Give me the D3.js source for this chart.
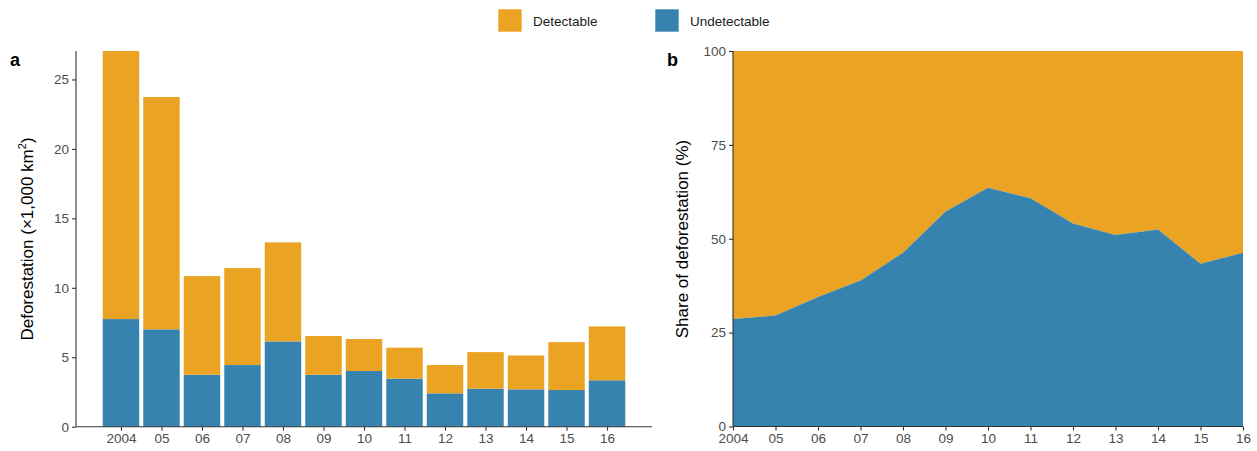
<!DOCTYPE html>
<html>
<head>
<meta charset="utf-8">
<script src="https://cdn.jsdelivr.net/npm/d3@7"></script>
<style>
  body { margin: 0; background: #fff; }
  text { font-family: "Liberation Sans", Arial, sans-serif; }
</style>
</head>
<body>
<svg id="chart" width="1257" height="451"></svg>
<script>
const years = ["2004","05","06","07","08","09","10","11","12","13","14","15","16"];
const undetectable = [7.75, 7.01, 3.74, 4.44, 6.14, 3.74, 4.01, 3.46, 2.40, 2.74, 2.69, 2.64, 3.34];
const detectable   = [19.35, 16.73, 7.10, 6.98, 7.13, 2.79, 2.30, 2.23, 2.04, 2.63, 2.44, 3.45, 3.88];
const leftTicks = [0, 5, 10, 15, 20, 25];
const rightTicks = [0, 25, 50, 75, 100];
const seriesNames = ["Detectable", "Undetectable"];

const colOrange = "#EBA324";
const colBlue = "#3683B0";
const tickCol = "#4D4D4D";
const axisCol = "#333333";

const svg = d3.select("#chart");

// ---------- Legend ----------
const legend = svg.append("g");
const legendItems = [
  {name: seriesNames[0], color: colOrange, x: 498, tx: 533},
  {name: seriesNames[1], color: colBlue, x: 655, tx: 690}
];
legendItems.forEach(d => {
  legend.append("rect").attr("x", d.x).attr("y", 9).attr("width", 24).attr("height", 23)
    .attr("fill", d.color).attr("stroke", "#fff").attr("stroke-width", 0.6);
  legend.append("text").attr("x", d.tx).attr("y", 25.5).attr("font-size", 13.5)
    .attr("fill", "#1a1a1a").text(d.name);
});

// ---------- Panel a ----------
const xA = d3.scalePoint().domain(years).range([76, 652]).padding(1.11);
const bw = xA.step() * 0.9;
const yA = d3.scaleLinear().domain([0, 27.05]).range([426.7, 51]);

svg.append("defs").append("clipPath").attr("id", "clipA")
  .append("rect").attr("x", 76).attr("y", 51).attr("width", 576).attr("height", 376);

const data = years.map((y, i) => ({year: y, Undetectable: undetectable[i], Detectable: detectable[i]}));
const stacked = d3.stack().keys(["Undetectable", "Detectable"])(data);
const colorOf = {Undetectable: colBlue, Detectable: colOrange};

const gA = svg.append("g").attr("clip-path", "url(#clipA)");
stacked.forEach(layer => {
  gA.selectAll(null).data(layer).enter().append("rect")
    .attr("x", d => xA(d.data.year) - bw / 2)
    .attr("width", bw)
    .attr("y", d => yA(d[1]))
    .attr("height", d => yA(d[0]) - yA(d[1]))
    .attr("fill", colorOf[layer.key]);
});

// axes a
const axA_y = svg.append("g").attr("transform", "translate(76,0)")
  .call(d3.axisLeft(yA).tickValues(leftTicks).tickSize(4).tickPadding(3));
const axA_x = svg.append("g").attr("transform", "translate(0,426.7)")
  .call(d3.axisBottom(xA).tickSize(4).tickPadding(3));

// ---------- Panel b ----------
const idx = d3.range(years.length);
const xB = d3.scaleLinear().domain([0, years.length - 1]).range([733, 1243]);
const yB = d3.scaleLinear().domain([0, 100]).range([426.5, 51]);
const share = idx.map(i => 100 * undetectable[i] / (undetectable[i] + detectable[i]));

svg.append("path")
  .datum(idx)
  .attr("d", d3.area().x(i => xB(i)).y0(yB(100)).y1(i => yB(share[i])))
  .attr("fill", colOrange);
svg.append("path")
  .datum(idx)
  .attr("d", d3.area().x(i => xB(i)).y0(yB(0)).y1(i => yB(share[i])))
  .attr("fill", colBlue);

const axB_y = svg.append("g").attr("transform", "translate(733,0)")
  .call(d3.axisLeft(yB).tickValues(rightTicks).tickSize(4).tickPadding(3));
const axB_x = svg.append("g").attr("transform", "translate(0,426.5)")
  .call(d3.axisBottom(xB).tickValues(idx).tickFormat(i => years[i]).tickSize(4).tickPadding(3));

// style axes
[axA_y, axA_x, axB_y, axB_x].forEach(g => {
  g.select(".domain").attr("stroke", axisCol).attr("stroke-width", 1.1);
  g.selectAll(".tick line").attr("stroke", axisCol).attr("stroke-width", 1.1);
  g.selectAll(".tick text").attr("fill", tickCol).attr("font-size", 13.5)
    .attr("font-family", "'Liberation Sans', Arial, sans-serif");
});
// remove outer tick extension on domains
axA_y.select(".domain").attr("d", "M0,426.7V51");
axA_x.select(".domain").attr("d", "M76,0H652");
axB_y.select(".domain").attr("d", "M0,426.5V51");
axB_x.select(".domain").attr("d", "M733,0H1243");

// ---------- Titles ----------
const ta = svg.append("text").attr("transform", "translate(33,239) rotate(-90)")
  .attr("text-anchor", "middle").attr("font-size", 17).attr("fill", "#000");
ta.append("tspan").text("Deforestation (×1,000 km");
ta.append("tspan").attr("font-size", 11).attr("dy", -7).text("2");
ta.append("tspan").attr("dy", 7).text(")");

svg.append("text").attr("transform", "translate(688,239) rotate(-90)")
  .attr("text-anchor", "middle").attr("font-size", 17).attr("fill", "#000")
  .text("Share of deforestation (%)");

svg.append("text").attr("x", 10).attr("y", 66).attr("font-size", 18)
  .attr("font-weight", "bold").text("a");
svg.append("text").attr("x", 667).attr("y", 66).attr("font-size", 18)
  .attr("font-weight", "bold").text("b");
</script>
</body>
</html>
